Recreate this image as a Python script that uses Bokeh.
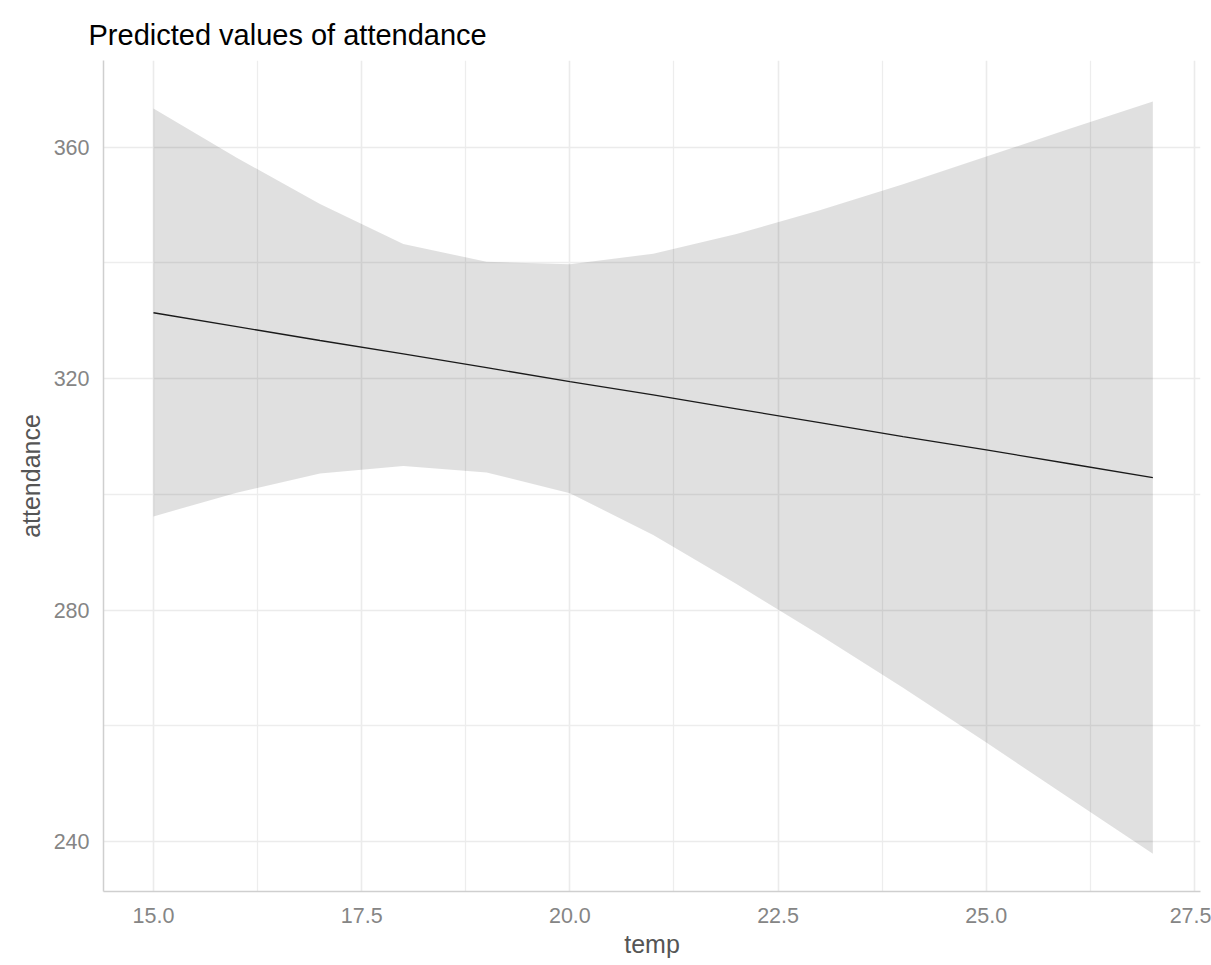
from bokeh.plotting import figure
from bokeh.models import Range1d, FixedTicker, NumeralTickFormatter, ColumnDataSource
from bokeh.embed import file_html
from bokeh.resources import INLINE

# ---- data ----
temp = [15, 16, 17, 18, 19, 20, 21, 22, 23, 24, 25, 26, 27]
predicted = [331.4, 329.0, 326.6, 324.3, 321.9, 319.5, 317.2, 314.8, 312.4, 310.0, 307.7, 305.3, 302.9]
conf_low = [296.2, 300.3, 303.6, 304.9, 303.8, 300.2, 293.0, 284.5, 275.7, 266.6, 257.1, 247.5, 237.9]
conf_high = [366.7, 358.2, 350.2, 343.3, 340.2, 339.8, 341.6, 345.0, 349.1, 353.6, 358.4, 363.2, 367.9]

x_ticks = [15.0, 17.5, 20.0, 22.5, 25.0, 27.5]
x_minor = [16.25, 18.75, 21.25, 23.75, 26.25]
y_ticks = [240, 280, 320, 360]
y_minor = [260, 300, 340]

src = ColumnDataSource(dict(temp=temp, predicted=predicted, low=conf_low, high=conf_high))

FONT = "Liberation Sans"

p = figure(frame_width=1097, frame_height=831,
           min_border_left=103, min_border_right=11, min_border_top=60, min_border_bottom=40,
           x_range=Range1d(14.40, 27.572), y_range=Range1d(231.36, 375.0),
           output_backend="svg", toolbar_location=None,
           title="Predicted values of attendance")

p.background_fill_color = "white"
p.border_fill_color = "white"
p.outline_line_color = None

# title
p.title.text_font = FONT
p.title.text_font_size = "29px"
p.title.text_font_style = "normal"
p.title.text_color = "black"
p.title.offset = -15
p.title.standoff = 19

# band + line
p.varea(x="temp", y1="low", y2="high", source=src, fill_color="black", fill_alpha=0.12)
p.line(x="temp", y="predicted", source=src, line_color="#1a1a1a", line_width=1.3)

# axes
p.xaxis.ticker = FixedTicker(ticks=x_ticks, minor_ticks=x_minor)
p.yaxis.ticker = FixedTicker(ticks=y_ticks, minor_ticks=y_minor)
p.xaxis.formatter = NumeralTickFormatter(format="0.0")

for ax in (p.xaxis, p.yaxis):
    ax.axis_line_color = "#cfcfcf"
    ax.axis_line_width = 1.5
    ax.major_tick_line_color = None
    ax.minor_tick_line_color = None
    ax.major_tick_out = 0
    ax.major_tick_in = 0
    ax.minor_tick_out = 0
    ax.minor_tick_in = 0
    ax.major_label_text_font = FONT
    ax.major_label_text_font_size = "21.5px"
    ax.major_label_text_color = "#858585"
    ax.axis_label_text_font = FONT
    ax.axis_label_text_font_size = "25px"
    ax.axis_label_text_font_style = "normal"
    ax.axis_label_text_color = "#555555"

p.xaxis.axis_label = "temp"
p.yaxis.axis_label = "attendance"
p.xaxis.major_label_standoff = 16
p.yaxis.major_label_standoff = 14
p.xaxis.axis_label_standoff = 4
p.yaxis.axis_label_standoff = 6

# grid
for g in (p.xgrid, p.ygrid):
    g.grid_line_color = "#ebebeb"
    g.grid_line_width = 1.6
    g.minor_grid_line_color = "#ededed"
    g.minor_grid_line_width = 1.3

open("out.html", "w").write(file_html(p, INLINE))
